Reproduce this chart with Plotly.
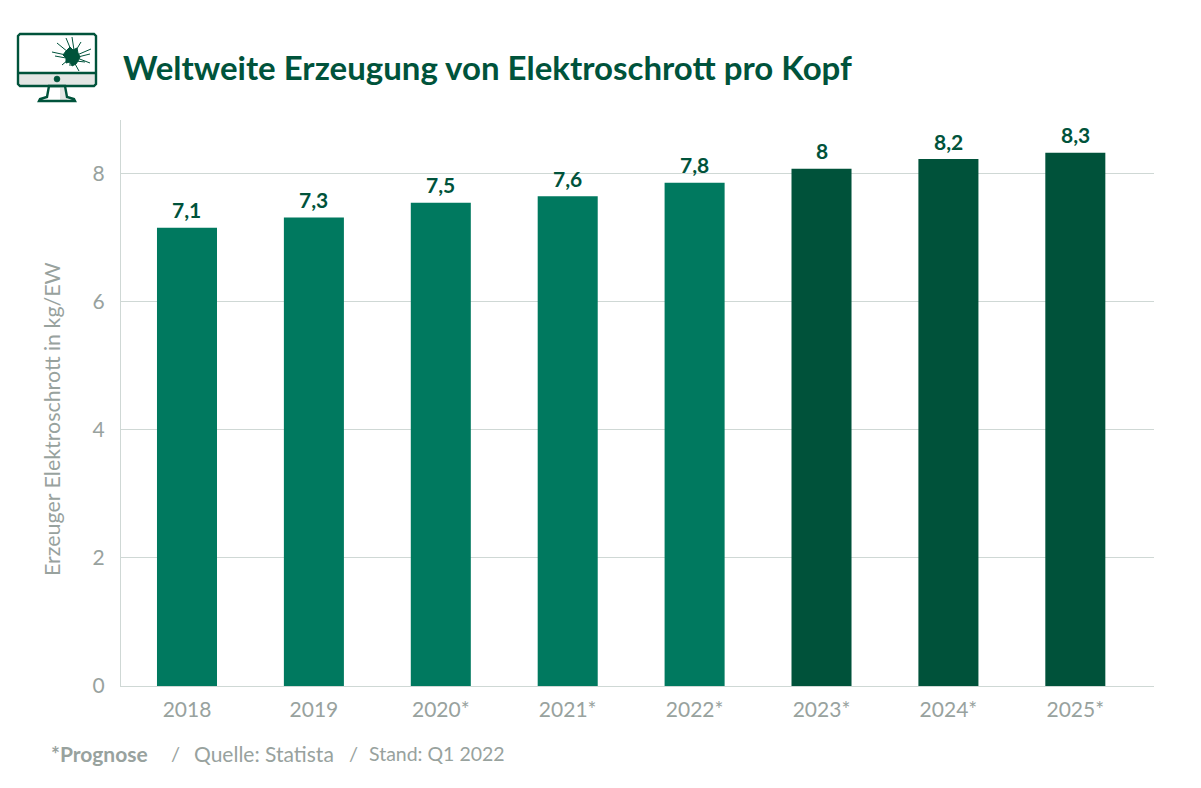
import plotly.graph_objects as go

categories = ["2018", "2019", "2020*", "2021*", "2022*", "2023*", "2024*", "2025*"]
bar_values = [7.15, 7.31, 7.54, 7.64, 7.85, 8.07, 8.22, 8.32]
value_labels = ["7,1", "7,3", "7,5", "7,6", "7,8", "8", "8,2", "8,3"]
bar_colors = ["#00795f"] * 5 + ["#00523a"] * 3
y_ticks = [0, 2, 4, 6, 8]

W, H = 1201, 788
L, R, T, B = 121, 1154, 120, 686
DARK = "#00533b"
GREY = "#98a29e"
FONT = "Lato"


def pl(x0, y0):
    return (x0 - L) / (R - L), (B - y0) / (B - T)


def path(points, close=True):
    s = ""
    for i, (x, y) in enumerate(points):
        a, b = pl(x, y)
        s += f"{'M' if i == 0 else 'L'}{a:.5f},{b:.5f} "
    return s + ("Z" if close else "")


fig = go.Figure(
    go.Bar(
        x=list(range(len(categories))),
        y=bar_values,
        marker=dict(color=bar_colors, line=dict(width=0)),
        width=0.473,
        hoverinfo="skip",
    )
)

shapes = []


def add(points, fill=None, line=DARK, width=2.4, close=True):
    shapes.append(
        dict(
            type="path",
            xref="paper",
            yref="paper",
            path=path(points, close),
            fillcolor=fill if fill else "rgba(0,0,0,0)",
            line=dict(color=line, width=width),
            layer="above",
        )
    )


# monitor icon
add([(18, 73), (96, 73), (96, 86), (18, 86)], fill="#e3e6e4", line="rgba(0,0,0,0)", width=0)
add([(60, 88), (65, 88), (67, 100), (60, 100)], fill="#e3e6e4", line="rgba(0,0,0,0)", width=0)
add([(20, 34), (94, 34), (96, 36), (96, 84), (94, 86), (20, 86), (18, 84), (18, 36)])
add([(18, 73), (96, 73)], close=False)
add([(49, 86), (47, 97), (40, 99), (39, 101), (75, 101), (74, 99), (67, 97), (65, 86)])
shapes.append(
    dict(
        type="circle", xref="paper", yref="paper",
        x0=pl(54, 0)[0], x1=pl(60, 0)[0], y0=pl(0, 82)[1], y1=pl(0, 76)[1],
        fillcolor=DARK, line=dict(color=DARK, width=0.5), layer="above",
    )
)
# impact burst on the screen
add(
    [(66, 51), (70, 47), (73, 50), (77, 48), (78, 53), (80, 57), (78, 61), (76, 64),
     (72, 66), (70, 62), (66, 63), (66, 58), (63, 55)],
    fill=DARK, line=DARK, width=1,
)
for tip, base in [
    ((52, 52), (66, 55)), ((57, 43), (68, 52)), ((66, 38), (71, 50)), ((72, 37), (74, 50)),
    ((81, 42), (75, 52)), ((91, 49), (77, 55)), ((90, 54), (78, 57)), ((90, 63), (77, 58)),
    ((85, 62), (76, 61)), ((79, 71), (74, 62)), ((70, 66), (70, 60)), ((55, 56), (66, 58)),
    ((62, 65), (68, 60)),
]:
    add([tip, base], close=False, width=1)

annotations = [
    dict(
        x=i, y=v, text=f"<b>{t}</b>", xref="x", yref="y",
        xanchor="center", yanchor="middle", yshift=18, showarrow=False,
        font=dict(family=FONT, size=21, color=DARK),
    )
    for i, (v, t) in enumerate(zip(bar_values, value_labels))
]


def note(text, x, y, size, color=GREY):
    return dict(
        text=text, xref="paper", yref="paper",
        x=pl(x, 0)[0], y=pl(0, y)[1],
        xanchor="left", yanchor="middle", showarrow=False,
        xshift=-1,
        font=dict(family=FONT, size=size, color=color),
    )


annotations += [
    note("<b>Weltweite Erzeugung von Elektroschrott pro Kopf</b>", 122, 67, 33, DARK),
    note("<b>*Prognose</b>", 50, 753, 21),
    note("/", 170, 753, 20),
    note("Quelle: Statista", 193, 753, 21),
    note("/", 348, 753, 20),
    note("Stand: Q1 2022", 368, 753, 19.5),
    dict(
        text="Erzeuger Elektroschrott in kg/EW",
        xref="paper", yref="paper",
        x=pl(52, 0)[0], y=pl(0, 419)[1],
        xanchor="center", yanchor="middle", showarrow=False, textangle=-90,
        font=dict(family=FONT, size=21.4, color=GREY),
    ),
]

fig.update_layout(
    width=W,
    height=H,
    margin=dict(l=L, r=W - R, t=T, b=H - B),
    paper_bgcolor="white",
    plot_bgcolor="white",
    showlegend=False,
    shapes=shapes,
    annotations=annotations,
    font=dict(family=FONT, color=GREY, size=20),
    xaxis=dict(
        tickmode="array",
        tickvals=list(range(len(categories))),
        ticktext=categories,
        range=[-0.52, 7.62],
        showgrid=False,
        zeroline=False,
        showline=True,
        linecolor="#cfd8d5",
        linewidth=1,
        ticks="",
        tickfont=dict(family=FONT, size=21, color=GREY),
        ticklabelstandoff=5,
    ),
    yaxis=dict(
        range=[0, 8.83],
        tickmode="array",
        tickvals=y_ticks,
        ticktext=[str(t) for t in y_ticks],
        showgrid=True,
        gridcolor="#cfd8d5",
        gridwidth=1,
        zeroline=False,
        showline=True,
        linecolor="#cfd8d5",
        linewidth=1,
        ticks="",
        tickfont=dict(family=FONT, size=21, color=GREY),
        ticklabelstandoff=11,
    ),
)

fig.write_html(
    "out.html",
    config=dict(displayModeBar=False),
    post_script="document.body.style.margin='0';document.body.style.overflow='hidden';",
)
